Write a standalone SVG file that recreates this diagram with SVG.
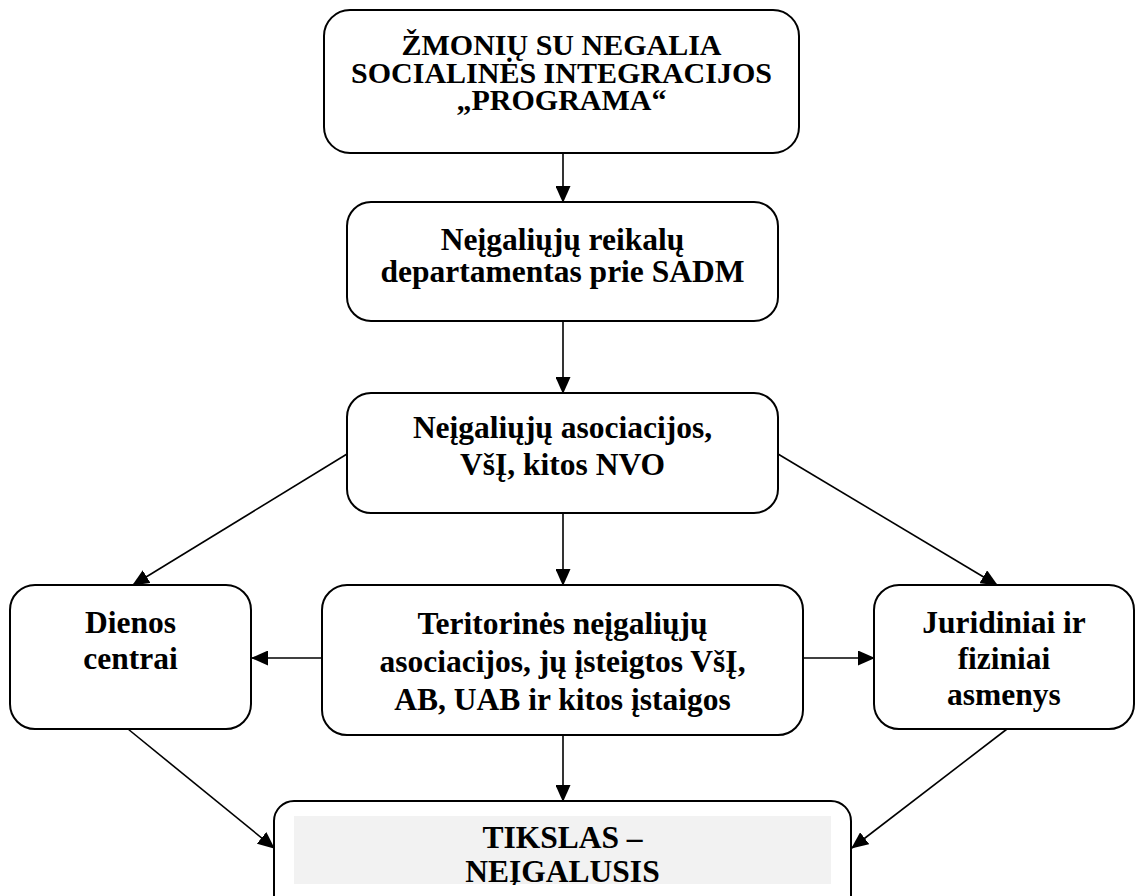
<svg xmlns="http://www.w3.org/2000/svg" width="1138" height="896" viewBox="0 0 1138 896">
<style>
.box{fill:#fff;stroke:#000;stroke-width:2}
.t{font-family:"Liberation Serif","Times New Roman",serif;font-weight:bold;fill:#000;text-anchor:middle}
.c{stroke:#000;stroke-width:1.6;fill:none;marker-end:url(#ah)}
</style>
<defs>
<marker id="ah" markerUnits="userSpaceOnUse" markerWidth="17" markerHeight="15" refX="16" refY="7.5" orient="auto" viewBox="0 0 17 15">
<path d="M0,0 L17,7.5 L0,15 z" fill="#000"/>
</marker>
<clipPath id="clip5"><rect x="270" y="800" width="590" height="85"/></clipPath>
</defs>
<rect width="1138" height="896" fill="#fff"/>
<g id="connectors">
<line class="c" x1="563" y1="154" x2="563" y2="202"/>
<line class="c" x1="563" y1="322" x2="563" y2="393"/>
<line class="c" x1="563" y1="514" x2="563" y2="585"/>
<line class="c" x1="563" y1="736" x2="563" y2="801"/>
<line class="c" x1="347" y1="454" x2="133" y2="585"/>
<line class="c" x1="778" y1="454" x2="997" y2="585"/>
<line class="c" x1="322" y1="658" x2="252" y2="658"/>
<line class="c" x1="803" y1="658" x2="874" y2="658"/>
<line class="c" x1="128" y1="729" x2="274" y2="848"/>
<line class="c" x1="1007" y1="729" x2="852" y2="848"/>
</g>
<g id="node-programa">
<rect class="box" x="324" y="10" width="475" height="143" rx="26"/>
<text class="t" font-size="30"><tspan x="561.5" y="55">ŽMONIŲ SU NEGALIA</tspan><tspan x="561.5" y="83">SOCIALINĖS INTEGRACIJOS</tspan><tspan x="561.5" y="110">„PROGRAMA“</tspan></text>
</g>
<g id="node-departamentas">
<rect class="box" x="347" y="202" width="431" height="119" rx="24"/>
<text class="t" font-size="31.5"><tspan x="562.5" y="250">Neįgaliųjų reikalų</tspan><tspan x="562.5" y="282">departamentas prie SADM</tspan></text>
</g>
<g id="node-asociacijos">
<rect class="box" x="347" y="393" width="431" height="120" rx="24"/>
<text class="t" font-size="31.5"><tspan x="562.5" y="438">Neįgaliųjų asociacijos,</tspan><tspan x="562.5" y="475">VšĮ, kitos NVO</tspan></text>
</g>
<g id="node-dienos">
<rect class="box" x="10" y="585" width="241" height="144" rx="25"/>
<text class="t" font-size="31.5"><tspan x="130.5" y="633">Dienos</tspan><tspan x="130.5" y="669">centrai</tspan></text>
</g>
<g id="node-teritorines">
<rect class="box" x="322" y="585" width="481" height="150" rx="25"/>
<text class="t" font-size="31.5"><tspan x="562.5" y="634">Teritorinės neįgaliųjų</tspan><tspan x="562.5" y="672">asociacijos, jų įsteigtos VšĮ,</tspan><tspan x="562.5" y="710">AB, UAB ir kitos įstaigos</tspan></text>
</g>
<g id="node-juridiniai">
<rect class="box" x="874" y="585" width="260" height="144" rx="25"/>
<text class="t" font-size="31.5"><tspan x="1004" y="633">Juridiniai ir</tspan><tspan x="1004" y="669">fiziniai</tspan><tspan x="1004" y="705">asmenys</tspan></text>
</g>
<g id="node-tikslas">
<rect class="box" x="274" y="801" width="577" height="120" rx="20"/>
<rect x="294" y="816" width="537" height="68" fill="#f2f2f2"/>
<text class="t" font-size="31.5" clip-path="url(#clip5)"><tspan x="562.5" y="848">TIKSLAS –</tspan><tspan x="562.5" y="882">NEĮGALUSIS</tspan></text>
</g>
</svg>
